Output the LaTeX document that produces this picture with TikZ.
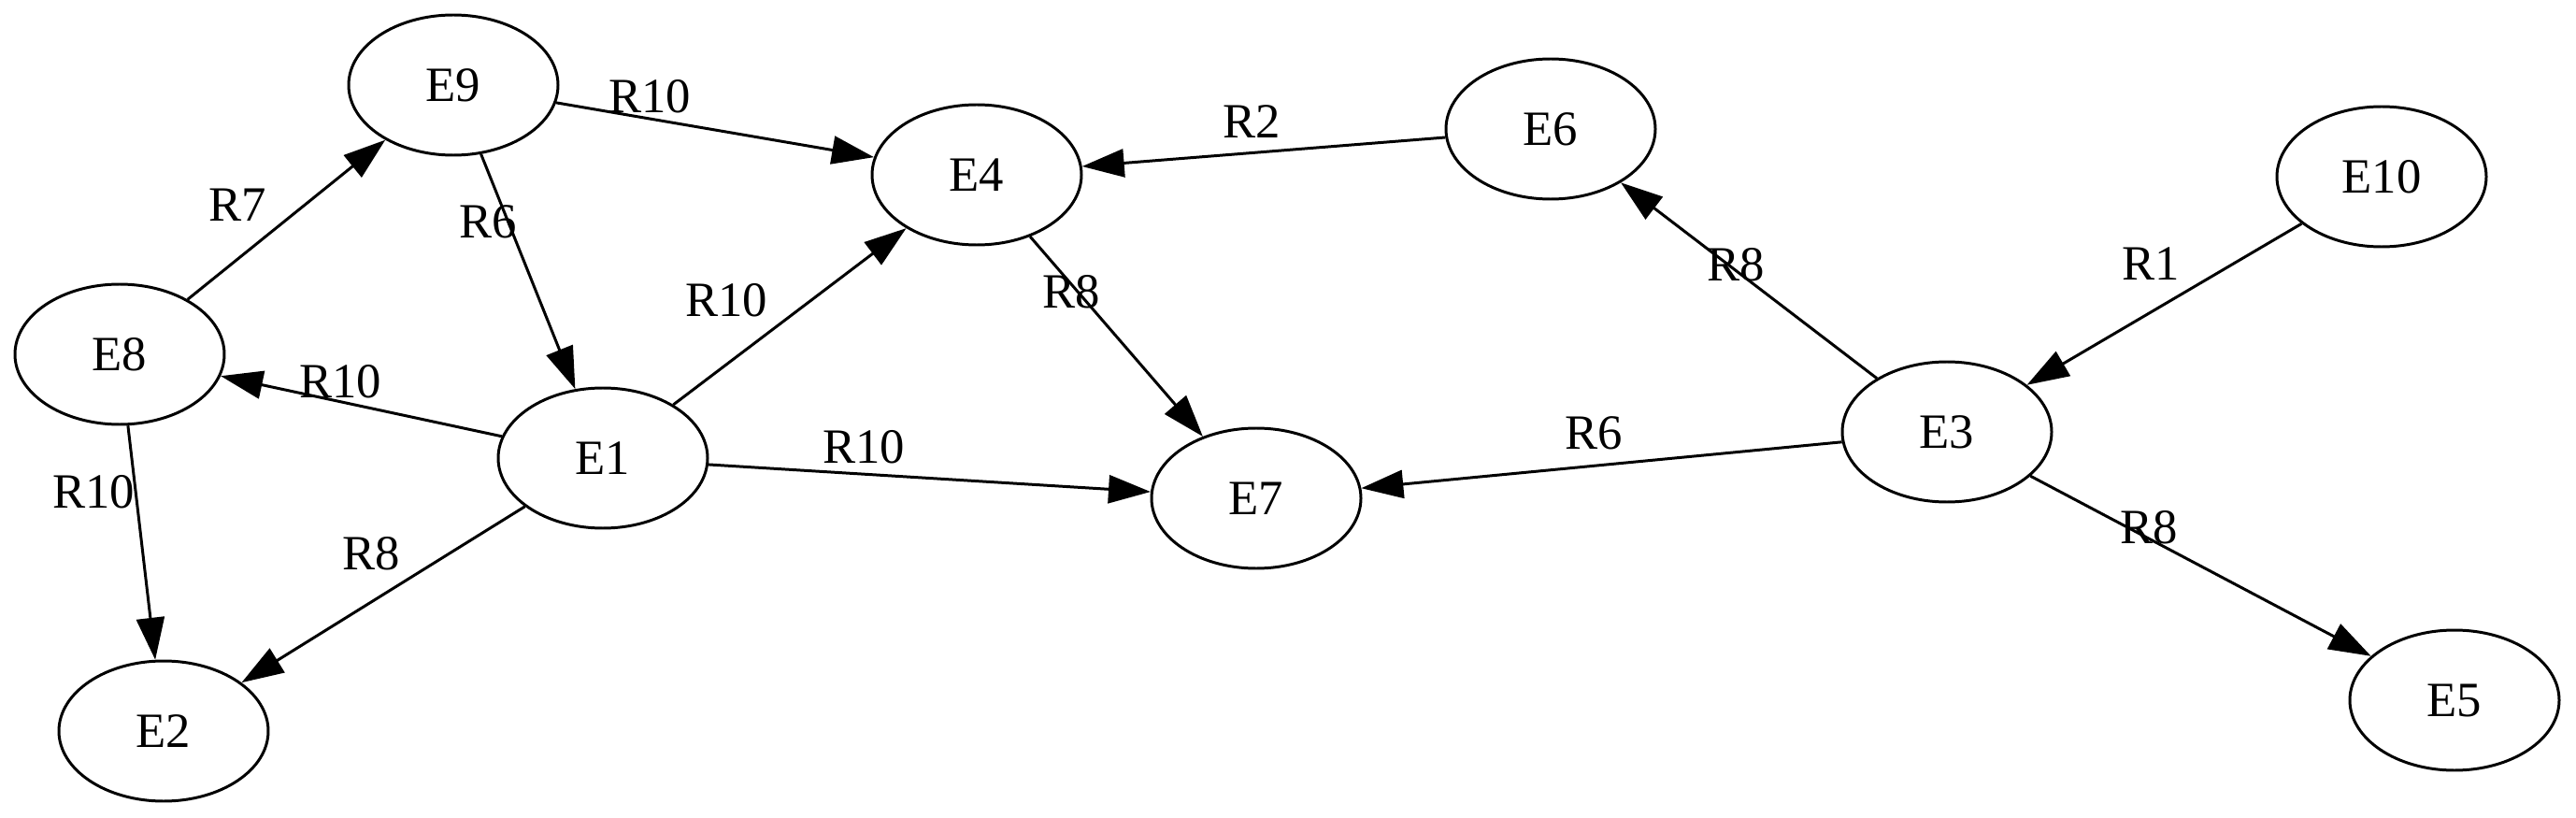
\documentclass[tikz,border=0pt]{standalone}
\usepackage{fontspec}
\setmainfont{Liberation Serif}
\usetikzlibrary{shapes.geometric,arrows.meta}
\begin{document}
\begin{tikzpicture}[
		every node/.style={font=\fontsize{15}{18}\selectfont},
		zustand/.style={draw, ellipse, line width=0.85pt, minimum width=2.24cm, minimum height=1.5cm, inner sep=0pt},
		kante/.style={-{Triangle[length=0.45cm, width=0.3cm]}, line width=0.85pt},
		marke/.style={inner sep=0pt}
	]
		\useasboundingbox (0,0) rectangle (27.56,-8.75);
		
		% zeichne Zustaende
		\node[zustand] (E9) at (4.85,-0.91) {E9};
		\node[zustand] (E4) at (10.45,-1.87) {E4};
		\node[zustand] (E8) at (1.28,-3.79) {E8};
		\node[zustand] (E1) at (6.45,-4.90) {E1};
		\node[zustand] (E7) at (13.44,-5.33) {E7};
		\node[zustand] (E2) at (1.75,-7.82) {E2};
		\node[zustand] (E6) at (16.59,-1.38) {E6};
		\node[zustand] (E10) at (25.48,-1.89) {E10};
		\node[zustand] (E3) at (20.83,-4.62) {E3};
		\node[zustand] (E5) at (26.26,-7.49) {E5};
		
		% zeichne Kanten
		\draw[kante] (E9) -- (E4);
		\draw[kante] (E8) -- (E9);
		\draw[kante] (E9) -- (E1);
		\draw[kante] (E1) -- (E4);
		\draw[kante] (E4) -- (E7);
		\draw[kante] (E1) -- (E8);
		\draw[kante] (E1) -- (E7);
		\draw[kante] (E8) -- (E2);
		\draw[kante] (E1) -- (E2);
		\draw[kante] (E6) -- (E4);
		\draw[kante] (E3) -- (E6);
		\draw[kante] (E10) -- (E3);
		\draw[kante] (E3) -- (E7);
		\draw[kante] (E3) -- (E5);
		
		% zeichne Labels
		\node[marke] (r94) at (6.95,-1.03) {R10};
		\node[marke] (r89) at (2.54,-2.19) {R7};
		\node[marke] (r91) at (5.22,-2.37) {R6};
		\node[marke] (r14) at (7.77,-3.21) {R10};
		\node[marke] (r47) at (11.46,-3.12) {R8};
		\node[marke] (r18) at (3.64,-4.08) {R10};
		\node[marke] (r17) at (9.24,-4.78) {R10};
		\node[marke] (r82) at (1.00,-5.26) {R10};
		\node[marke] (r12) at (3.97,-5.92) {R8};
		\node[marke] (r64) at (13.39,-1.30) {R2};
		\node[marke] (r36) at (18.57,-2.83) {R8};
		\node[marke] (r103) at (23.01,-2.82) {R1};
		\node[marke] (r37) at (17.05,-4.63) {R6};
		\node[marke] (r35) at (22.99,-5.64) {R8};
	\end{tikzpicture}
\end{document}
